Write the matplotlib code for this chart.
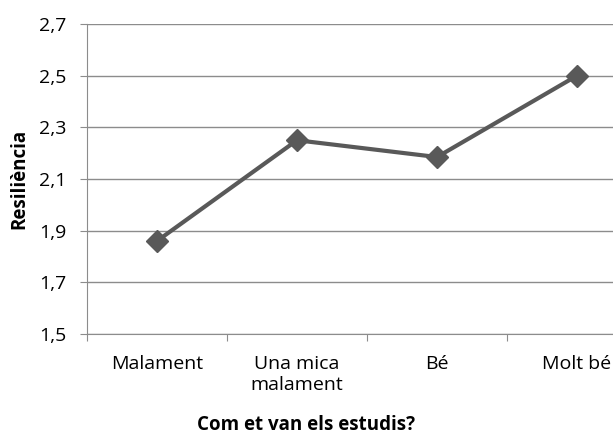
import matplotlib.pyplot as plt
from matplotlib.ticker import FuncFormatter

categories = ["Malament", "Una mica\nmalament", "Bé", "Molt bé"]
resilience = [1.86, 2.25, 2.185, 2.50]
y_ticks = [1.5, 1.7, 1.9, 2.1, 2.3, 2.5, 2.7]

plt.rcParams["font.family"] = ["Open Sans", "DejaVu Sans"]

fig = plt.figure(figsize=(6.13, 4.34), dpi=100)
# axes runs past the right edge, as in the cropped original
ax = fig.add_axes([87 / 613, 1 - 334 / 434, 560 / 613, 310 / 434])

x = range(len(categories))
ax.plot(x, resilience, color="#595959", linewidth=3, marker="D",
        markersize=11, markerfacecolor="#595959", markeredgecolor="#595959",
        zorder=3)

ax.set_xlim(-0.5, len(categories) - 0.5)
ax.set_ylim(1.5, 2.7)
ax.set_yticks(y_ticks)
ax.yaxis.set_major_formatter(FuncFormatter(lambda v, _: f"{v:.1f}".replace(".", ",")))
ax.yaxis.grid(True, color="#8c8c8c", linewidth=1)
ax.set_axisbelow(True)

# category labels centred, tick marks on the boundaries
ax.set_xticks([i - 0.5 for i in x])
ax.set_xticklabels([])
ax.set_xticks(list(x), minor=True)
ax.set_xticklabels(categories, minor=True, fontsize=14, linespacing=1.2)
ax.tick_params(axis="x", which="minor", length=0, pad=15)
ax.tick_params(axis="x", which="major", length=5, color="#8c8c8c", direction="out")
ax.tick_params(axis="y", length=5, color="#8c8c8c", labelsize=14, pad=10)

for side in ["top", "right"]:
    ax.spines[side].set_visible(False)
ax.spines["left"].set_color("#8c8c8c")
ax.spines["bottom"].set_color("#8c8c8c")

ax.set_ylabel("Resiliència", fontsize=13.5, fontweight="bold", labelpad=7)
fig.text(306 / 613, 1 - 425 / 434, "Com et van els estudis?", fontsize=13.5,
         fontweight="bold", ha="center", va="center")

fig.savefig("out.png", dpi=100)
